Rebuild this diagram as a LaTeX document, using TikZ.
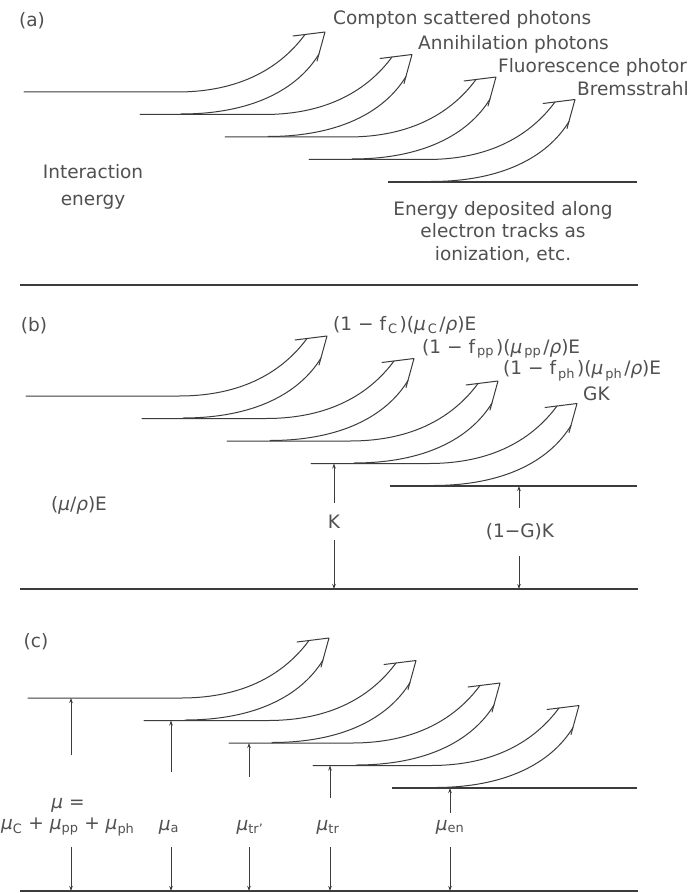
\documentclass[tikz,border=0pt]{standalone}
\usepackage{fontspec}
\setmainfont{DejaVu Sans}
\usepackage{tikz}
\usetikzlibrary{arrows.meta,calc}
\definecolor{cInk}{HTML}{3C3C3C}
\definecolor{cText}{HTML}{505050}
\tikzset{
  lvl/.style={draw=cInk, line width=1.1pt},
  band/.style={draw=cInk, line width=1.0pt, line join=round, line cap=round},
  dimarr/.style={-{Stealth[length=5pt,width=3.5pt]}, cInk, line width=0.8pt},
  lbl/.style={font=\fontsize{18.5}{22.5}\selectfont, text=cText, inner sep=0pt},
  sublbl/.style={lbl, anchor=west},
  tag/.style={lbl}
}
\newcommand{\gmu}{\textit{μ}}
\newcommand{\grho}{\textit{ρ}}
\newcommand{\sbs}[1]{\textsubscript{\hspace{2pt}#1\hspace{2pt}}}
\newcommand{\wminus}{\hspace{6pt}−\hspace{6pt}}
% broad photon arrow: tip (#1,#2), level line starts at x=#3
\newcommand{\photonband}[3]{%
  \draw[band] (#3,#2+60) -- (#1-148,#2+60)
    .. controls (#1-84,#2+60) and (#1-44,#2+35) .. (#1-20,#2+2.5);
  \draw[band] (#1-32,#2+4) -- (#1,#2) -- (#1-8,#2+29);
  \draw[band] (#1-6,#2+22)
    .. controls (#1-28,#2+58) and (#1-74,#2+82) .. (#1-144,#2+82);
}

\begin{document}
\begin{tikzpicture}[x=1pt, y=-1pt]
\useasboundingbox (0,0) rectangle (691,893);
\fill[white] (0,0) rectangle (691,893);
% the same cascade in each panel
\foreach \p/\dy/\dx in {a/0/0, b/304/2, c/606/4} {
  \foreach \tx/\xs [count=\i] in {325/24, 412/140, 496/225, 575/309} {
    \pgfmathsetmacro\ty{\dy+32+22.5*(\i-1)}
    \coordinate (\p-L\i) at (\xs+\dx, \ty+60);
    \photonband{\tx+\dx}{\ty}{\xs+\dx}
  }
  \coordinate (\p-L5) at (388+\dx, \dy+182);
  \coordinate (\p-end) at (637, \dy+182);
  \draw[lvl] (\p-L5) -- (\p-end);
  \coordinate (\p-base) at (20, \dy+285);
  \coordinate (\p-baseend) at (638, \dy+285);
  \draw[lvl] (\p-base) -- (\p-baseend);
}
% (a) energy flow
\node[tag] (a-tag) at (32,21) {(a)};
\node[sublbl] (compton) at (333,19) {Compton scattered photons};
\node[sublbl] (annih) at (418,44) {Annihilation photons};
\node[sublbl] (fluor) at (498,67) {Fluorescence photor};
\node[sublbl] (brems) at (577,89) {Bremsstrahl};
\node[lbl] (inter) at (93,172) {Interaction};
\node[lbl] (energy) at (93,202) {energy};
\node[lbl, align=center] (depos) at (503,232)
  {Energy deposited along\\electron tracks as\\ionization, etc.};
% (b) mass coefficients
\node[tag] (b-tag) at (34,326) {(b)};
\node[sublbl] (fC) at (333,325) {(1\wminus f\sbs{C})(\gmu\sbs{C}/\grho)E};
\node[sublbl] (fpp) at (422,349) {(1\wminus f\sbs{pp})(\gmu\sbs{pp}/\grho)E};
\node[sublbl] (fph) at (503,371) {(1\wminus f\sbs{ph})(\gmu\sbs{ph}/\grho)E};
\node[sublbl] (GK) at (583,394) {GK};
\node[lbl] (muE) at (79,505) {(\gmu/\grho)E};
\node[lbl] (K) at (334,522) {K};
\node[lbl] (GKr) at (520,532) {(1−G)K};
\coordinate (K-up) at (334,503);
\coordinate (K-dn) at (334,540);
\draw[dimarr] (K-up) -- (K-up |- b-L4);
\draw[dimarr] (K-dn) -- (K-dn |- b-base);
\coordinate (GK-up) at (519,508);
\coordinate (GK-dn) at (519,556);
\draw[dimarr] (GK-up) -- (GK-up |- b-L5);
\draw[dimarr] (GK-dn) -- (GK-dn |- b-base);
% (c) attenuation coefficients
\node[tag] (c-tag) at (36,642) {(c)};
\node[lbl] (mu-eq) at (68,805) {\gmu\ =};
\node[sublbl] (mu-sum) at (1,827)
  {\gmu\textsubscript{C} + \gmu\textsubscript{pp} + \gmu\textsubscript{ph}};
\node[lbl] (mua) at (169,827) {\gmu\textsubscript{a}};
\node[lbl] (mutrp) at (250,827) {\gmu\textsubscript{tr'}};
\node[lbl] (mutr) at (328,827) {\gmu\textsubscript{tr}};
\node[lbl] (muen) at (450,827) {\gmu\textsubscript{en}};
\foreach \n/\x/\ys/\lv in {mu/71/755/1, mua/171/772/2, mutrp/249/777/3, mutr/330/798/4, muen/450/813/5} {
  \coordinate (\n-up) at (\x,\ys);
  \coordinate (\n-dn) at (\x,847);
  \draw[dimarr] (\n-up) -- (\n-up |- c-L\lv);
  \draw[dimarr] (\n-dn) -- (\n-dn |- c-base);
}
\end{tikzpicture}
\end{document}
